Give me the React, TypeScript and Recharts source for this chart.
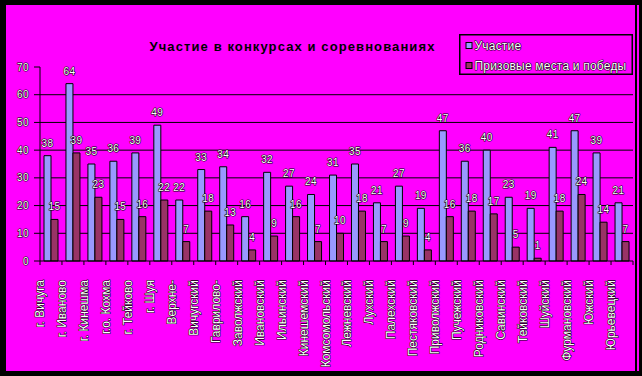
import React from 'react';
import { BarChart, Bar, XAxis, YAxis, CartesianGrid, Legend, LabelList } from 'recharts';

// districts of the Ivanovo region, in the order shown on the axis
const districts = [
  'г. Вичуга', 'г. Иваново', 'г. Кинешма', 'г.о. Кохма', 'г. Тейково', 'г. Шуя',
  'Верхне-', 'Вичугский', 'Гаврилово-', 'Заволжский', 'Ивановский', 'Ильинский',
  'Кинешемский', 'Комсомольский', 'Лежневский', 'Лухский', 'Палехский', 'Пестяковский',
  'Приволжский', 'Пучежский', 'Родниковский', 'Савинский', 'Тейковский', 'Шуйский',
  'Фурмановский', 'Южский', 'Юрьевецкий',
];
const participation = [38, 64, 35, 36, 39, 49, 22, 33, 34, 16, 32, 27, 24, 31, 35, 21, 27, 19, 47, 36, 40, 23, 19, 41, 47, 39, 21];
const prizes = [15, 39, 23, 15, 16, 22, 7, 18, 13, 4, 9, 16, 7, 10, 18, 7, 9, 4, 16, 18, 17, 5, 1, 18, 24, 14, 7];
const yTicks = [0, 10, 20, 30, 40, 50, 60, 70];
const gridValues = [10, 20, 30, 40, 50, 60];

const title = 'Участие в конкурсах и соревнованиях';
const seriesNames = ['Участие', 'Призовые места и победы'];
const seriesColors = ['#9999FF', '#993366'];

const chartData = districts.map((name, i) => ({ name, participation: participation[i], prizes: prizes[i] }));

const FONT = '"Liberation Sans", Arial, sans-serif';
const PLOT_LEFT = 40;
const PLOT_RIGHT = 633;
const BAND = (PLOT_RIGHT - PLOT_LEFT) / districts.length;

// light text with a thin dark rim, like the old bitmap chart labels
const outlined: React.CSSProperties = {
  fill: '#ffffff',
  stroke: '#000000',
  strokeWidth: 1.1,
  paintOrder: 'stroke',
  strokeLinejoin: 'round',
};

const ValueLabel = (props: any) => {
  const x = Number(props.x);
  const y = Number(props.y);
  const w = Number(props.width);
  return (
    <text x={x + w / 2} y={y - 9} textAnchor="middle" fontSize={10} fontFamily={FONT} letterSpacing={0.4} style={outlined}>
      {props.value}
    </text>
  );
};

const YTick = ({ x, y, payload }: any) => (
  <text x={x} y={y} dy={3.6} textAnchor="end" fontSize={10} fontFamily={FONT} letterSpacing={0.5} style={outlined}>
    {payload.value}
  </text>
);

const XTick = ({ x, y, payload, index }: any) => {
  const left = x - BAND / 2;
  const ty = y + 19;
  return (
    <g>
      <line x1={left} x2={left} y1={y} y2={y + 4} stroke="#000" />
      {index === districts.length - 1 && <line x1={x + BAND / 2} x2={x + BAND / 2} y1={y} y2={y + 4} stroke="#000" />}
      <text
        x={left}
        y={ty}
        transform={`rotate(-90 ${left} ${ty})`}
        textAnchor="end"
        dominantBaseline="central"
        fontSize={12}
        fontFamily={FONT}
        style={outlined}
      >
        {payload.value}
      </text>
    </g>
  );
};

const LegendBox = () => (
  <svg width={174} height={41} style={{ display: 'block' }}>
    <rect x={0.75} y={0.75} width={172.5} height={39.5} fill="none" stroke="#000" strokeWidth={1.5} />
    {seriesNames.map((name, i) => (
      <g key={name}>
        <rect x={7} y={8.5 + i * 20} width={6} height={6} fill={seriesColors[i]} stroke="#000" strokeWidth={1} />
        <text x={15.5} y={11.7 + i * 20} dy={4.2} fontSize={12} fontFamily={FONT} letterSpacing={0.2} style={outlined}>
          {name}
        </text>
      </g>
    ))}
  </svg>
);

export default function App() {
  return (
    <div style={{ position: 'absolute', left: 0, top: 0, width: 642, height: 376, background: '#000' }}>
      <div style={{ position: 'absolute', left: 6, top: 5, width: 629, height: 366, background: '#FF00FF' }} />
      <div style={{ position: 'absolute', left: 637, top: 5, width: 1.5, height: 366, background: '#FF00FF' }} />
      <div
        style={{
          position: 'absolute', left: 0, top: 39, width: 585, textAlign: 'center',
          fontFamily: FONT, fontWeight: 'bold', fontSize: 13, lineHeight: '16px', letterSpacing: 1.1, color: '#000',
        }}
      >
        {title}
      </div>
      <div style={{ position: 'absolute', left: 0, top: 0 }}>
        <BarChart width={642} height={376} data={chartData} margin={{ top: 67, right: 642 - PLOT_RIGHT, bottom: 0, left: 0 }} barGap={0} barSize={7}>
          <CartesianGrid horizontal vertical={false} horizontalValues={gridValues} stroke="#000" strokeWidth={1} />
          <XAxis
            dataKey="name"
            interval={0}
            height={115}
            tickLine={false}
            tickSize={0}
            tickMargin={0}
            axisLine={{ stroke: '#000' }}
            tick={<XTick />}
          />
          <YAxis
            width={PLOT_LEFT}
            domain={[0, 70]}
            ticks={yTicks}
            interval={0}
            tickSize={6}
            tickMargin={5}
            axisLine={{ stroke: '#000' }}
            tickLine={{ stroke: '#000' }}
            tick={<YTick />}
          />
          <Legend
            layout="horizontal"
            verticalAlign="middle"
            align="center"
            content={<LegendBox />}
            wrapperStyle={{ left: 459, top: 34, width: 174, height: 41 }}
          />
          <Bar dataKey="participation" name={seriesNames[0]} fill={seriesColors[0]} stroke="#000" strokeWidth={1} isAnimationActive={false}>
            <LabelList dataKey="participation" content={<ValueLabel />} />
          </Bar>
          <Bar dataKey="prizes" name={seriesNames[1]} fill={seriesColors[1]} stroke="#000" strokeWidth={1} isAnimationActive={false}>
            <LabelList dataKey="prizes" content={<ValueLabel />} />
          </Bar>
        </BarChart>
      </div>
    </div>
  );
}
